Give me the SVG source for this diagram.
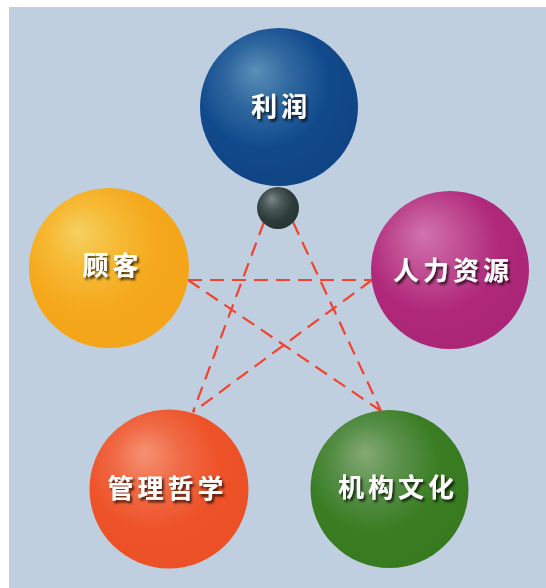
<svg xmlns="http://www.w3.org/2000/svg" width="546" height="588" viewBox="0 0 546 588">
<style>
.lbl{font-family:"Noto Sans CJK SC","Noto Sans",sans-serif;font-size:26px;font-weight:bold;fill:#ffffff;text-anchor:middle;letter-spacing:4px;filter:url(#shadow)}
.dash{fill:none;stroke:#f2432f;stroke-width:2.2;stroke-dasharray:14 8}
</style>
<defs>
<filter id="shadow" x="-20%" y="-40%" width="140%" height="180%">
<feDropShadow dx="2" dy="2.5" stdDeviation="1" flood-color="#000" flood-opacity="0.7"/>
</filter>
<radialGradient id="gBlue" cx="0.42" cy="0.38" r="0.6" fx="0.35" fy="0.27">
<stop offset="0" stop-color="#5a8fb8"/><stop offset="0.35" stop-color="#2e679f"/><stop offset="0.7" stop-color="#114a8c"/><stop offset="1" stop-color="#104585"/>
</radialGradient>
<radialGradient id="gYellow" cx="0.42" cy="0.38" r="0.6" fx="0.3" fy="0.27">
<stop offset="0" stop-color="#f5d060"/><stop offset="0.35" stop-color="#f6ba35"/><stop offset="0.7" stop-color="#f5a81c"/><stop offset="1" stop-color="#f4a51a"/>
</radialGradient>
<radialGradient id="gMagenta" cx="0.42" cy="0.38" r="0.6" fx="0.33" fy="0.27">
<stop offset="0" stop-color="#d272b0"/><stop offset="0.35" stop-color="#c04e92"/><stop offset="0.7" stop-color="#b0287a"/><stop offset="1" stop-color="#ab2677"/>
</radialGradient>
<radialGradient id="gOrange" cx="0.42" cy="0.38" r="0.6" fx="0.34" fy="0.27">
<stop offset="0" stop-color="#f59272"/><stop offset="0.35" stop-color="#f06a45"/><stop offset="0.7" stop-color="#ee5228"/><stop offset="1" stop-color="#ec5027"/>
</radialGradient>
<radialGradient id="gGreen" cx="0.42" cy="0.38" r="0.6" fx="0.34" fy="0.27">
<stop offset="0" stop-color="#85aa72"/><stop offset="0.35" stop-color="#58904a"/><stop offset="0.7" stop-color="#3a7d22"/><stop offset="1" stop-color="#387a20"/>
</radialGradient>
<radialGradient id="gDark" cx="0.42" cy="0.38" r="0.6" fx="0.35" fy="0.28">
<stop offset="0" stop-color="#7a8787"/><stop offset="0.4" stop-color="#475555"/><stop offset="0.75" stop-color="#2d3b3b"/><stop offset="1" stop-color="#283535"/>
</radialGradient>
</defs>
<rect x="0" y="0" width="546" height="588" fill="#ffffff"/>
<rect x="9" y="7" width="537" height="581" fill="#bfcfdf"/>
<g id="connectors">
<line class="dash" x1="264" y1="222" x2="193" y2="412"/>
<line class="dash" x1="293" y1="222" x2="381" y2="411"/>
<line class="dash" x1="188" y1="280" x2="372" y2="280"/>
<line class="dash" x1="188" y1="280" x2="381" y2="411"/>
<line class="dash" x1="372" y1="280" x2="193" y2="412"/>
</g>
<g id="node-profit">
<circle cx="279" cy="107" r="79" fill="url(#gBlue)"/>
<text class="lbl" x="281" y="116">利润</text>
</g>
<g id="node-customer">
<circle cx="109" cy="268" r="80" fill="url(#gYellow)"/>
<text class="lbl" x="112.5" y="275">顾客</text>
</g>
<g id="node-hr">
<circle cx="450" cy="270" r="79" fill="url(#gMagenta)"/>
<text class="lbl" x="453" y="280">人力资源</text>
</g>
<g id="node-philosophy">
<circle cx="169" cy="489" r="79.5" fill="url(#gOrange)"/>
<text class="lbl" x="167.5" y="498">管理哲学</text>
</g>
<g id="node-culture">
<circle cx="389.5" cy="489" r="79" fill="url(#gGreen)"/>
<text class="lbl" x="398" y="497">机构文化</text>
</g>
<g id="node-hub">
<circle cx="278" cy="208" r="21" fill="url(#gDark)"/>
</g>
</svg>
